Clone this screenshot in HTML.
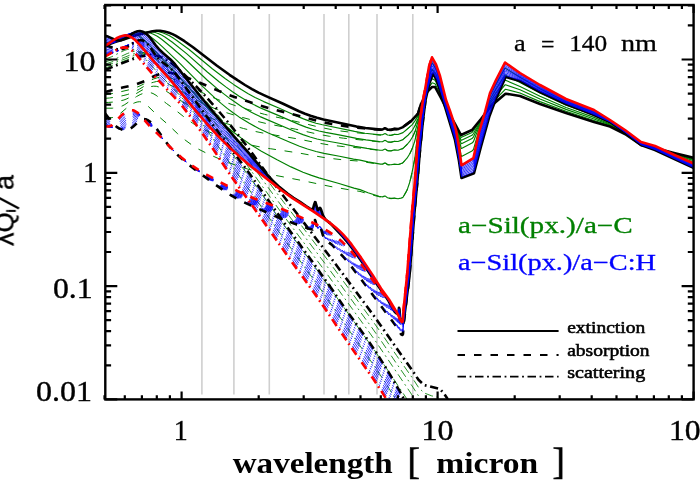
<!DOCTYPE html>
<html><head><meta charset="utf-8"><title>lambda Q / a  -  a = 140 nm</title><style>html,body{margin:0;padding:0;background:#fff;}body{width:700px;height:500px;overflow:hidden;font-family:"Liberation Serif",serif;}svg{display:block;}</style></head><body>
<svg width="700" height="500" viewBox="0 0 700 500"><defs><clipPath id="pc"><rect x="105.3" y="5.0" width="588.3" height="394.4"/></clipPath></defs><rect width="700" height="500" fill="#fff"/><g clip-path="url(#pc)">
<line x1="201.9" x2="201.9" y1="14" y2="394.5" stroke="#cfcfcf" stroke-width="1.6"/>
<line x1="233.9" x2="233.9" y1="14" y2="394.5" stroke="#cfcfcf" stroke-width="1.6"/>
<line x1="269.3" x2="269.3" y1="14" y2="394.5" stroke="#cfcfcf" stroke-width="1.6"/>
<line x1="324.0" x2="324.0" y1="14" y2="394.5" stroke="#cfcfcf" stroke-width="1.6"/>
<line x1="348.8" x2="348.8" y1="14" y2="394.5" stroke="#cfcfcf" stroke-width="1.6"/>
<line x1="377.0" x2="377.0" y1="14" y2="394.5" stroke="#cfcfcf" stroke-width="1.6"/>
<line x1="412.8" x2="412.8" y1="14" y2="394.5" stroke="#cfcfcf" stroke-width="1.6"/>
<path d="M105.2 44.1L120.7 40.1L139.2 34.4L149.7 31.6L152.7 31.2L155.7 31.2L158.9 31.7L162.6 32.8L166.2 34.3L169.5 35.8L172.8 37.8L176.8 40.5L189.1 49.5L212.3 68.7L225.4 78.7L233.5 84.4L241.3 89.5L248.2 93.7L255.1 97.5L263.7 101.6L280.5 108.7L297.5 116.4L303.5 118.9L309.5 121.1L316 123.2L322.5 124.8L354.5 131.4L365 133.2L380 134.9L382.5 134.8L384.5 133.7L385 133.6L386 134L387.5 135L390.5 135.2L392.5 134.9L394.5 134.2L398 134.5L403 132.6L412 124.9L415 120.9L418 115.8L421 104.9L427 90.3L429 86.9L432 82.8L435 83.7L436 85.6L440 93.6L447 109.2L456 126.3L461 137.3L461.5 137.3L472 132.4L473.5 130.6L481 119.7L491 104.1L505 89.6L505.5 89.3L520 93L540 101.6L566 111.3L610 125.8L625 133.6L641 144.7L655 147.8L675 153.4L700 160.1" fill="none" stroke="#008000" stroke-width="1.15" stroke-linejoin="round"/>
<path d="M105.4 42.9L113.4 41.7L118.9 40.5L129.4 37.5L141.4 33.4L146.9 32L149.9 31.7L152.4 31.9L155.2 32.5L158.1 33.5L161.5 35.1L164.9 37L172.4 42.3L186.3 53.4L207.3 72L219.1 81.8L225.8 86.9L232.5 91.7L239.2 96.2L245.5 100.1L253.5 104.5L261.5 108.4L280 116.1L299.5 124.6L306 127.1L312.5 129.2L319 131L325.5 132.4L339 134.9L356.5 138.4L366 139.9L379.5 141.6L382.5 141.7L384.5 140.5L385 140.4L385.5 140.5L387.5 141.8L388 142L391 142.1L394.5 141.2L398 141.5L403 139.6L403.5 139L408 135.1L411 132L412.5 130L415 125.8L418 118.5L421 106L427 88.5L429 83.6L432 78.5L435 80.3L436 82.1L440 90.8L446 106.1L456 126.8L461 140L461.5 140.3L472 135.3L473.5 133.5L485 113.4L490 103.7L491 102.1L505 84.9L505.5 84.8L520 89.7L540 99L566 109.4L594 119L610 124.9L625 133.1L641 144.3L655 147.5L675 153.7L700 161" fill="none" stroke="#008000" stroke-width="1.15" stroke-linejoin="round"/>
<path d="M105.4 42.8L108.9 42.6L112.4 42.1L122.4 39.7L126.4 38.4L136.9 34.3L142.9 32.6L145.4 32.4L147.9 32.5L150.3 33L153.4 34.2L157.3 36.3L161.6 39.3L165.9 42.7L172.9 48.5L185.5 59.5L207.1 80L218.9 90.1L230.6 99.1L241.8 106.7L250.9 112L260.1 116.6L295.5 131.7L303 134.6L310 137L317 139L324 140.5L339.5 143.3L355 146.4L367 148.4L380 150.2L382.5 150.3L384.5 149.2L385 149.1L385.5 149.2L387.5 150.5L388 150.6L391 150.8L394.5 149.9L398 150.3L403 148.4L407.5 144L410.5 140.3L412.5 137L415 131.6L418 121.5L420 111.4L423 100L429 80.2L432 74.2L435 76.9L436 78.7L440 88L446 105L456 127.3L459 136.4L461 143.1L461.5 143.7L472 138.6L473.5 136.8L479 125.1L485 113.1L490 101.7L496 92.8L505 80.4L505.5 80.3L520 86.5L540 96.3L566 107.5L594 117.4L610 124.1L625 132.5L641 143.9L655 147.3L675 153.9L700 161.9" fill="none" stroke="#008000" stroke-width="1.15" stroke-linejoin="round"/>
<path d="M105.2 43.5L111.2 42.7L119.2 40.8L122.2 39.7L131.2 35.5L134.7 34.2L137.7 33.4L140.2 33.2L142.7 33.3L144.7 33.8L147.4 35L150.1 36.5L153.7 39.2L157.8 42.6L162.8 47.2L179.9 63.3L201.5 85.4L215.1 98.1L221.4 103.6L227.2 108.4L233.1 112.8L239 116.9L248.9 123.1L258.8 128.5L267.8 132.7L290.5 142.5L299.5 146.2L307.5 149L316 151.5L324 153.4L339.5 156.2L353.5 159.1L360 160.1L368 161.9L380.5 164.1L382.5 164.1L384.5 163.1L385 163L385.5 163.1L387.5 164.4L388 164.6L391 164.8L394.5 164.1L398 164.5L400.5 163.7L403 162.7L407 158.2L409.5 154.3L412 149.1L414.5 142L415.5 138.1L418 125.7L420 113.5L423 100L425 92.8L429 76.3L432 69.2L435 72.8L436 74.6L440 84.6L446 103.6L453 120.2L456 128L459 138.9L461 147.5L461.5 148.5L472 143.1L473.5 141.5L479 126.9L485 112.8L490 99.3L496 89.1L505 75L506 75.4L520 82.6L540 93.1L566 105.2L594 115.3L610 123L625 131.9L641 143.4L655 146.9L675 154.3L700 163" fill="none" stroke="#008000" stroke-width="1.15" stroke-linejoin="round"/>
<path d="M105.5 44.6L110 43.8L113 42.9L123 37.2L126.5 35.7L129.5 34.8L132 34.4L134 34.4L136.5 35L138.9 36.1L140.8 37.3L143.2 39.2L149.8 45.7L176.1 73.4L201.8 102.2L215.6 116.4L224.2 124.4L232.3 131.2L241.4 138.1L250.4 144.5L261.4 151.2L277.1 159.8L291 166.9L303 172.2L311.5 175.4L319 177.9L339 183.5L354 188.1L360 189.6L368 192.7L379 196.2L381.5 196.8L382.5 196.9L384.5 196.1L385 196.1L386 196.6L387.5 197.7L391 198.4L394.5 198L398 198.8L401 198.1L402.5 197.6L403 197.2L406.5 191.1L407.5 188.9L409.5 183L411 177.2L413 167.9L415 157.3L417 139.6L420 116.8L423 100L425 91.3L429 70.9L432 62.6L436 69L440 79.9L446 101.7L453 120.1L456 129L459 143L461 154.7L461.5 156.6L472 150.9L473 150L473.5 149.4L479 129.8L485 112.4L490 95.9L496 84.1L505 68L520 77.3L540 88.7L566 101.8L594 112.5L610 121.4L625 130.9L641 142.7L655 146.4L675 154.8L692.5 161.7L700 164.9" fill="none" stroke="#008000" stroke-width="1.15" stroke-linejoin="round"/>
<path d="M105.1 94.8L114.3 93.2L130.5 89.5L134.8 88.1L140 85.9L143.4 84.2L149.5 80.8L153.8 78.9L157.2 77.8L160.7 77L163.3 76.8L166 76.9L170.6 78L176.6 80.3L186.4 84.8L207.9 95.4L221.3 100.9L235.5 105.7L254.8 111.6L264.4 114.3L273.2 116.4L297.1 121.7L319 127.1L331.5 129.6L340 130.9L350.5 132.2L379.5 135L382.5 135.1L384.5 133.9L385 133.8L386 134.2L387.5 135.2L391 135.4L394.5 134.4L398 134.7L403 132.8L412 125.1L415 121.1L418 116L421 104.9L423 100L427 90.3L429 86.9L431 84.2" fill="none" stroke="#008000" stroke-width="1.00" stroke-dasharray="7.8 8.7" stroke-linejoin="round"/>
<path d="M105.1 98.3L109.4 98L115.8 97.1L123.1 95.6L127.2 94.6L131.3 93.1L135.4 91.2L139.4 89.1L145.9 85.2L150 83.3L153.3 82.3L156.5 81.5L159 81.3L161.4 81.4L164.9 82.4L169.6 84.6L182.2 91.5L199.1 101.3L205.4 104.7L208.4 106L217.5 109.6L226.5 112.7L236.8 115.9L253.6 120.5L267.8 123.9L295.7 129.2L318 134.2L329.5 136.3L343.5 138.2L380 141.9L382.5 141.9L384.5 140.7L385 140.7L386 141L387.5 142L391 142.3L394.5 141.4L398 141.7L403 139.8L409 134.3L411 132.1L412.5 130.2L415 125.9L418 118.7L421 106L423 100L427 88.5L429 83.6L431 80.2" fill="none" stroke="#008000" stroke-width="1.00" stroke-dasharray="7.8 8.7" stroke-linejoin="round"/>
<path d="M105 102.5L108.7 102.4L114 102L120.1 100.9L123.9 100L126.9 98.8L130.7 96.9L142.2 90L145.2 88.5L148.3 87.3L151.3 86.5L153.6 86.2L156.3 86.3L159.2 87.1L162.5 88.8L179 99.4L191.3 107.8L202.8 114.7L211.7 118.5L220.9 121.9L230.7 124.9L243.5 128.5L254.5 131.3L264.2 133.3L297.8 138.9L318.5 143.1L329.5 145L343.5 146.6L360 148L380.5 150.5L382.5 150.5L384.5 149.4L385 149.3L385.5 149.4L387.5 150.7L388 150.8L391 151L394.5 150.1L398 150.5L403 148.6L403.5 147.9L407 144.7L409.5 141.8L411.5 138.9L414.5 133L415.5 130.3L418 121.7L420 111.5L421 107.1L423 100L429 80.2L431 76.2" fill="none" stroke="#008000" stroke-width="1.00" stroke-dasharray="7.8 8.7" stroke-linejoin="round"/>
<path d="M105.4 108.2L112.3 108.2L116.5 107.7L120 106.9L122.1 106L124.8 104.6L136.6 96.5L140.1 94.6L142.9 93.5L145.6 92.7L148.4 92.4L150.4 92.6L153 93.5L156.1 95.3L166.5 103.5L174.3 109.2L185.6 118.2L192.5 123.1L199.5 127.6L207.3 131.2L215.5 134.5L224.2 137.5L234.7 140.7L248.8 144.6L261.2 147.2L270.3 148.7L300 153.2L317 156.3L326.5 157.9L342.5 159.8L360 161.2L367 162.4L380.5 164.4L382.5 164.4L384.5 163.3L385 163.3L385.5 163.4L387.5 164.7L388 164.8L391 165L394.5 164.3L398 164.7L400.5 163.9L403 162.9L403.5 162.1L407 158.4L409 155.4L410.5 152.6L413.5 145.2L415 140.5L415.5 138.2L418 125.8L420 113.5L423 100L425 92.8L429 76.3L431 71.6" fill="none" stroke="#008000" stroke-width="1.00" stroke-dasharray="7.8 8.7" stroke-linejoin="round"/>
<path d="M105.1 117.4L108.2 117.7L111.1 117.7L113.5 117.4L115.2 116.8L117 115.9L118.8 114.7L127.7 107.1L131.8 104.1L134.2 103L137.1 102L139.5 101.7L141.5 102L143.9 102.9L146.7 104.9L157.5 115.4L167.3 123.9L177.6 133.7L185.1 140L192.6 145.5L194.5 146.8L198.8 149.3L207.9 153.9L218 158.3L229.5 162.9L238.6 166.2L247.2 168.9L255.4 171.2L263.6 173.1L300 180.1L330 186.4L351 190.1L360 191.4L369 194.1L380.5 197.1L382.5 197.3L384.5 196.5L385 196.5L388 198.2L391 198.7L394.5 198.3L398 199L398.5 198.9L401.5 198.2L402.5 197.8L403 197.4L407 190.4L409 184.8L410.5 179.4L413 168L415 157.4L417 139.6L420 116.8L421 111.1L423 100L425 91.3L429 70.9L431 65.4" fill="none" stroke="#008000" stroke-width="1.00" stroke-dasharray="7.8 8.7" stroke-linejoin="round"/>
<path d="M105 68.1L137 56.2L141 55.2L145.5 54.5L148.5 54.3L151.5 54.5L155 55.3L158 56.5L161.4 58.4L164.9 60.8L169.8 64.7L174.8 68.9L188.1 81.6L199.9 94.1L213.6 109.7L231.5 131.8L246 150.6L278.5 195.3L330.5 263.8L372 320.1L379.5 330.6L396.5 355.4L413 378.9L418.5 387.4L424 392.9L431.5 395.8L440 397.8L444 401.9L447 405.8L449 410.3" fill="none" stroke="#008000" stroke-width="0.85" stroke-dasharray="8.2 3.7 1.8 3.7" stroke-linejoin="round"/>
<path d="M105.1 66L123.1 59.7L133.1 55.8L136.1 54.9L140.1 53.9L143.6 53.4L146.6 53.4L149 53.8L151.8 54.6L154.6 55.9L157.7 57.9L160.9 60.3L166.5 65L173.2 71.1L187.1 84.6L192.3 90L198.2 96.7L212.1 113.2L234 141.1L247.5 158.9L278.5 201.8L326 264.9L372 327.8L380 339.2L396.5 363.5L413 387.3L418.5 395.9L424 401.8L432 406.1L440 407.7L444 411.3" fill="none" stroke="#008000" stroke-width="0.85" stroke-dasharray="8.2 3.7 1.8 3.7" stroke-linejoin="round"/>
<path d="M105.5 64L119.5 59.3L130.5 54.9L135.5 53.3L139 52.6L141.5 52.4L144.2 52.6L146.7 53.2L149.2 54.2L151.3 55.4L154.2 57.6L157.5 60.4L174.1 75.9L183.6 85.3L189 91L195.6 98.5L203.9 108.5L218.8 127.6L247 165L280.5 211.5L322.5 267.7L374 338.9L413 396.4L418.5 405L423.5 410.8" fill="none" stroke="#008000" stroke-width="0.85" stroke-dasharray="8.2 3.7 1.8 3.7" stroke-linejoin="round"/>
<path d="M105.3 61.9L116.3 58.4L119.8 57L127.3 53.5L132.8 51.7L135.3 51.2L137.8 51.1L140 51.4L142.2 52.1L144.4 53.1L146.2 54.2L151 58.3L173.7 80.8L182 89.2L186.8 94.4L198.1 108L213 127.3L230 150.8L251.5 179.8L282.5 223.2L309 258.9L321.5 276L375 351L415 411.2" fill="none" stroke="#008000" stroke-width="0.85" stroke-dasharray="8.2 3.7 1.8 3.7" stroke-linejoin="round"/>
<path d="M105.3 59L111.8 56.7L121.3 51.8L124.8 50.3L127.3 49.5L129.8 49.1L131.8 49.2L134.1 49.8L136.5 50.8L139.3 52.7L142.1 55.3L158.1 73L177.4 92.7L183.9 100L192.9 111.2L205.6 128.2L230 163.2L254.5 197.1L281.5 235.3L319 286.9L348.5 329.5L374 365.6L382.5 378.4L403.5 410.9" fill="none" stroke="#008000" stroke-width="0.85" stroke-dasharray="8.2 3.7 1.8 3.7" stroke-linejoin="round"/>
<path d="M105 45.7L115 42L125 39L135 35.5L141 33.9L152.5 31.2L156.5 30.7L160 30.8L164.5 31.5L169 32.8L172.5 34.1L175.5 35.6L184.5 41.2L193 47.2L217 65.8L229.5 74.8L237.5 80.2L245 85L252 89.1L258.5 92.6L266 96.1L282 103.2L299 111.2L305 113.7L310.5 115.7L317 117.8L323.5 119.5L356.5 126.6L365.5 128L380.5 129.6L382.5 129.5L384.5 128.3L385 128.2L386 128.6L387.5 129.6L391 129.8L394.5 128.8L398 129.1L403 127.1L403.5 126.6L412 120.2L418 113.6L421 104L427 92L432 87L435 87L441 98L447 110L455 124L461 135L472 130L481 119L491 106L505.5 93.7L506 93.7L520 96L540 104L566 113L594 122L610 126.5L625 134L641 145L655 148L675 153.2L700 159.4" fill="none" stroke="#000000" stroke-width="2.60" stroke-linejoin="round"/>
<path d="M105 92L122.5 87.6L132 85.4L137 84L144.5 81.1L154.5 76L159.5 74.2L165.5 72.9L168.5 72.8L171.5 73L177.5 74.2L184 76.4L196 81.1L218 90.6L226 93.9L234.5 97L257 104.5L270.5 108.6L295.5 115L316.5 120.7L324.5 122.6L332 124.1L340.5 125.5L351.5 127L363.5 128.3L381 129.8L382.5 129.7L384.5 128.5L385 128.4L386 128.8L387.5 129.8L391 130L394.5 129L398 129.3L403 127.3L403.5 126.8L412 120.4L418 113.8L421 104L427 92L431 88" fill="none" stroke="#000000" stroke-width="2.60" stroke-dasharray="7.8 8.7" stroke-linejoin="round"/>
<path d="M105 70L120.5 63.7L138.5 57L142 56.1L146.5 55.5L150.5 55.1L154 55.3L158 56L161.5 57.2L165 58.9L168.5 61.1L172.5 64.1L176.5 67.4L189.5 79.5L202.5 92.9L216 107.9L230 124.6L244.5 143L254 155.8L278.5 189.6L334 262L372 313.3L380 324.4L397.5 349.6L413 371.4L418.5 379.8L424 385L440 389L444 393.6L447 398L452 410.5" fill="none" stroke="#000000" stroke-width="2.60" stroke-dasharray="8.2 3.7 1.8 3.7" stroke-linejoin="round"/>
<path d="M329 222.2L332 225L343 236.9L348.5 243.5L354 250.7L362 262.1L374 279.9L386.5 297.7L388.5 300.8L392.5 308.3L394.5 311.5L396 313L398 314L398.5 312.5L399 307.7L399.5 309.2L400 316.5L400.5 318.9L402 322L402.5 322.6L403.5 323L409.5 276L414.5 212L417.5 180L420 150L423 120L425.5 100L429.5 83L433 73.5L437 81L443 100L455 140L459 161L461.5 178L474 173.2L481 146.5L489.5 116L495.5 100L505.5 77.2L506 77.1L520 81L540 92L566 104L594 115L610 122L625 132.5L641 145L655 150L675 159.2L700 171" fill="none" stroke="#000000" stroke-width="2.60" stroke-linejoin="round"/>
<path d="M329 242.6L332.5 245.3L338 251L344.5 258.2L350.5 265.4L357.5 274.5L396 326L400.5 333.5L401.5 334.6L402.5 335L403 334L403.5 326.2L406.5 300L409.5 276L414.5 212L417.5 180L420 150L423 120L425.5 100L429.5 83L431 78.9" fill="none" stroke="#000000" stroke-width="2.60" stroke-dasharray="7.8 8.7" stroke-linejoin="round"/>
<path d="M329 285.1L348 312.5L367 338.8L377 353.7L385 366.4L393 379.7L401 393.6L410.5 410.8" fill="none" stroke="#000000" stroke-width="2.60" stroke-dasharray="8.2 3.7 1.8 3.7" stroke-linejoin="round"/>
<path d="M105.1 37.2L114.1 40.6L116.6 41L118.6 40.9L120.6 40.3L123.1 39.1L130.1 34.5L133.1 32.8L135.6 31.8L138.1 31.4L140.1 31.7L142.1 32.4L144.6 34L146.6 35.8L149.1 38.6L154.4 45.6L157.5 49.2L161.9 53.6L169.4 60.3L173.9 65L200.9 98.9L221.2 123.3L232.3 136L250.5 156.1L265 172.8L273 181.3L280.5 188.2L288 194.1L294 198.3L300 202L306 206.2L310 208.6L312.5 209.6L313 209.1L314 205.7L315 203.2L315.5 203.4L317.5 209.7L318 210.5L319.5 208.9L320 208.6L320.5 209.1L323 215.7L325 218.8L326 220L329.5 222.6L332 224.9L340.5 233.9L347.5 241.9L354 250.4L360.5 259.6L374 279.6L387.5 299L389 301.4L393 308.9L394.5 311.2L396 312.8L398 314.1L398.5 312.8L399 308.7L399.5 310.1L400 316.7L400.5 319L401.5 321.2L402.5 322.4L403 322.4L403.5 321.7L409.5 272.8L414.5 209.3L420 147L423 118L425.5 98.7L429.5 81.2L432 74.3L433 72.1L437 79.6L443 98.8L455 138.7L459 159.6L461.5 176.7L473 172.1L474 171.4L481 144.4L489.5 113.9L495.5 98.1L505 76.8L505.5 75.8L506 75.7L520 80.2L540 91.3L566 103.5L594 114.5L610 121.8L625 132.2L641 144.7L655 149.6L700 170.6" fill="none" stroke="#0000ff" stroke-width="0.80" stroke-linejoin="round"/>
<path d="M105.2 38.7L113.2 41.3L115.2 41.6L117.2 41.4L119.2 40.7L121.2 39.7L128.7 34.9L131.2 33.5L133.7 32.4L136.2 31.9L138.2 32L140.7 32.9L143.2 34.4L145.2 36.1L147.7 38.9L153 45.8L156.6 49.9L160.6 54L168.7 61.5L173.7 66.9L202.4 102.8L213.6 116.2L224.9 129.3L233.8 139.3L250 156.6L264.5 172.8L271.5 180L279 187L287 193.5L293 197.7L300 202.1L308.5 207.9L310.5 209L312.5 209.8L313 209.3L314 206.4L315 204.2L315.5 204.4L317.5 210.2L318 210.9L320 209.4L320.5 209.9L323 215.9L325 218.9L326 220L329.5 222.6L332 224.9L340.5 233.6L347.5 241.6L354 250.1L360.5 259.3L375.5 281.6L387.5 298.8L389.5 302.1L393 308.6L395 311.6L396 312.6L398 314.2L398.5 313.2L399 309.6L399.5 310.9L400 316.9L400.5 319L401.5 321.1L402.5 322.3L403 322L403.5 320.4L407 292L409.5 269.6L414.5 206.7L420 144L423 116L425.5 97.4L429 81.4L429.5 79.4L432 72.4L433 70.6L437 78.3L440 87.6L446 108L455 137.3L459 158.2L461.5 175.4L473 170.6L474 169.6L481 142.3L489.5 111.8L495.5 96.2L505 75.2L505.5 74.4L506 74.3L520 79.4L540 90.6L566 103L594 114L610 121.6L625 132L641 144.4L655 149.2L700 170.1" fill="none" stroke="#0000ff" stroke-width="0.80" stroke-linejoin="round"/>
<path d="M105.3 40.2L111.8 41.9L113.8 42.1L115.8 41.9L117.3 41.4L119.3 40.4L126.8 35.5L129.3 34.1L132.3 32.8L134.8 32.3L136.8 32.4L139.3 33.3L141.8 34.8L143.8 36.5L146.3 39.2L152.1 46.5L155.7 50.7L159.8 54.9L167.6 62.3L172.6 67.8L202.2 104.5L213.1 117.6L223.6 129.6L234.5 141.6L250 157.7L264 172.8L270 178.9L278 186.3L286.5 193.2L293 197.8L300 202.2L308 207.6L310.5 209L312.5 209.9L313 209.6L314 207.1L315 205.3L315.5 205.5L317.5 210.7L318 211.4L320 210.2L320.5 210.7L323 216.2L325 218.9L326 220L329.5 222.6L332 224.8L340 232.9L347 240.8L353.5 249.1L360.5 259L378.5 285.8L387.5 298.7L389.5 301.9L393 308.3L395 311.3L398 314.3L398.5 313.5L399 310.5L399.5 311.8L400 317.2L400.5 319.1L401.5 321.1L402.5 322.1L403 321.5L403.5 319.1L407 290L409.5 266.4L417 174.7L420 141L423 114L425.5 96.1L429 79.5L429.5 77.6L432 70.5L433 69.2L437 76.9L440 86.1L446 107L455 136L459 156.8L461.5 174.2L473 169L473.5 168.7L474 167.9L479 147.6L489.5 109.7L495.5 94.3L505 73.6L505.5 72.9L506 72.9L520 78.6L540 89.9L566 102.5L594 113.5L610 121.4L625 131.8L641 144.1L655 148.8L700 169.7" fill="none" stroke="#0000ff" stroke-width="0.80" stroke-linejoin="round"/>
<path d="M105.4 41.5L110.9 42.6L112.9 42.6L114.9 42.2L117.9 40.8L127.4 34.8L130.4 33.4L132.9 32.8L135.4 32.9L137.4 33.5L139.9 34.9L142.4 36.9L144.9 39.5L150.7 46.7L154.9 51.5L166.9 63.6L172 69.2L202 106.3L212.1 118.3L221.8 129.4L234.3 142.9L266.5 175.8L276 184.7L285 192.2L293 197.9L308 207.7L312.5 210.1L313 209.8L314 207.8L315 206.3L315.5 206.6L317.5 211.2L318 211.8L320 211L320.5 211.5L323 216.4L325 219L326 220L329.5 222.6L332 224.8L337.5 230.1L342.5 235.3L346.5 239.9L350.5 244.8L359 256.5L380 287.8L388 299.2L393 307.9L395 311L398 314.3L398.5 313.9L399 311.4L399.5 312.7L400 317.4L400.5 319.2L401.5 321L402.5 322L403 321L403.5 317.8L407 288L409.5 263.2L417 171.2L420 138L423 112L425.5 94.8L429 77.7L429.5 75.8L432 68.6L433 67.7L436 73.3L437 75.6L440 84.7L446 106L455 134.7L456 139.1L459 155.4L461.5 172.9L473 167.5L473.5 167.1L474 166.1L479 145.5L490 106L496 91.3L505 72L505.5 71.5L506 71.5L520 77.8L540 89.2L566 102L594 113L610 121.2L625 131.5L641 143.8L655 148.4L700 169.2" fill="none" stroke="#0000ff" stroke-width="0.80" stroke-linejoin="round"/>
<path d="M105 42.6L110 43.2L112 43.1L113.5 42.7L116.5 41.1L125.5 35.4L129 33.9L131.5 33.3L134 33.3L136 33.9L138.5 35.3L141.5 37.7L144 40.4L149.8 47.5L154 52.3L165.7 64.4L171.3 70.7L201.3 107.5L211.1 119.1L220 129.2L227.1 136.9L234.1 144.2L262 171.9L270.5 180L278.5 187.1L286 193L293.5 198.4L308.5 208L312.5 210.2L313 210.1L314 208.5L315 207.4L315.5 207.6L317.5 211.7L318 212.3L320 211.9L320.5 212.3L323 216.7L325 219.1L332.5 225.2L338 230.4L343 235.6L350.5 244.5L359 256.2L380.5 288.4L388 299L395 310.7L398 314.4L398.5 314.2L399 312.4L399.5 313.6L400 317.7L400.5 319.3L401.5 321L402.5 321.8L403 320.5L407 286L409.5 260L417 167.7L420 135L423 110L425.5 93.5L429 75.8L432 66.8L433 66.3L436 71.8L437 74.2L440 83.2L446 105L450 117.2L455 133.3L456 137.6L459 154L461.5 171.7L473 166L473.5 165.6L474 164.3L479 143.3L490 103.8L496 89.4L505 70.4L505.5 70L520 77L540 88.5L566 101.5L594 112.5L610 121L625 131.2L641 143.5L655 148L700 168.8" fill="none" stroke="#0000ff" stroke-width="0.80" stroke-linejoin="round"/>
<path d="M105.1 43.6L109.1 43.8L112.1 43.1L114.6 41.8L123.6 36.1L126.6 34.7L129.6 33.8L132.1 33.7L134.6 34.3L137.1 35.7L140.1 38L142.6 40.6L153.7 53.7L165.1 65.7L171.2 72.7L199.2 106.9L213.9 124.2L225.8 137.2L238.1 149.7L265 175.4L272.5 182.1L279.5 188L285.5 192.8L291.5 197.1L310.5 209.3L312.5 210.4L313 210.3L314 209.2L315 208.4L315.5 208.7L317.5 212.2L318 212.7L320 212.7L320.5 213.1L322.5 216.3L324.5 218.6L326 220L330 223L333.5 226L338.5 230.7L343 235.4L346.5 239.3L350.5 244.2L359 255.9L372 275.2L380.5 288.3L388 298.8L395 310.5L398 314.5L398.5 314.6L399 313.3L399.5 314.5L400 317.9L400.5 319.4L401.5 321L402.5 321.7L403 320.1L407 284L409.5 256.8L412 224.8L415 190.7L417 164.1L420 132L423 108L425.5 92.2L429 73.9L432 64.9L433 64.9L436 70.4L437 72.8L440 81.8L446 104L450 115.9L455 132L456 136.1L459 152.6L461.5 170.4L473 164.5L473.5 164L474 162.5L479 141.2L490 101.7L496 87.5L505 68.8L505.5 68.6L520 76.2L540 87.8L566 101L594 112L610 120.8L625 131L641 143.2L655 147.6L700 168.4" fill="none" stroke="#0000ff" stroke-width="0.80" stroke-linejoin="round"/>
<path d="M105.2 44.4L108.2 44.3L110.7 43.6L112.7 42.5L118.7 38.5L121.7 36.7L125.2 35.1L128.2 34.2L130.7 34.1L133.2 34.8L136.2 36.4L139.2 38.8L142.2 42.1L153.3 55.2L164.9 67.6L171.1 74.7L198.1 107.5L211.5 123.4L223.6 136.6L235.6 148.7L262 173.2L271 181.1L279.5 188.2L285.5 192.9L291.5 197.2L310 209.1L312.5 210.5L313 210.5L314 209.8L315 209.4L315.5 209.7L317.5 212.7L318 213.2L320 213.5L320.5 213.9L322.5 216.6L324.5 218.7L330.5 223.4L334 226.4L338.5 230.5L343 235.1L347 239.6L351 244.6L359.5 256.3L372.5 275.7L381 288.9L388 298.6L394 308.6L398 314.6L398.5 314.9L399 314.2L399.5 315.3L400 318.2L400.5 319.4L401.5 320.9L402 321.4L402.5 321.5L403 319.6L407 282L409.5 253.6L412 221.6L415 188L417 160.6L420 129L423 106L425.5 90.9L429 72.1L432 63L433 63.4L436 68.9L437 71.5L440 80.3L446 103L450 114.7L455 130.7L456 134.6L459 151.2L461.5 169.1L473 163L473.5 162.4L479 139L485 118L490 99.5L496 85.7L505 67.3L505.5 67.2L520 75.4L540 87.1L566 100.5L594 111.5L610 120.6L625 130.8L641 142.9L655 147.2L700 167.9" fill="none" stroke="#0000ff" stroke-width="0.80" stroke-linejoin="round"/>
<path d="M105.3 45L107.3 44.7L109.3 44L111.3 42.9L116.8 39.2L120.3 37.1L123.8 35.5L126.8 34.6L129.3 34.6L131.8 35.2L134.8 36.8L137.8 39.2L141.3 42.9L153.5 57.2L171.1 76.7L197.4 108.7L210 123.6L221.7 136.4L233.4 148.1L244.2 158L257.5 169.9L269 179.7L280 188.7L286 193.4L292 197.6L309.5 208.9L312.5 210.7L313 210.8L315 210.5L315.5 210.8L318 213.7L320 214.3L320.5 214.7L322.5 216.9L324.5 218.8L331 223.8L335 227.1L339 230.8L343 234.9L347 239.4L351 244.3L355.5 250.3L360.5 257.5L372.5 275.4L381 288.8L388.5 299.2L398 314.7L398.5 315.3L399 315.1L399.5 316.2L400 318.4L400.5 319.5L401.5 320.9L402 321.3L402.5 321.4L403 319.1L403.5 312.7L407 280L412 218.4L415 185.3L417 157.1L420 126L423 104L429 70.2L432 61.1L433 62L436 67.4L440 78.9L446 102L450 113.5L455 129.3L456 133.1L459 149.8L461.5 167.9L473 161.5L473.5 160.9L479 136.8L485 116L490 97.3L496 83.8L505 65.7L506 66L520 74.6L540 86.4L566 100L594 111L610 120.4L625 130.5L641 142.6L655 146.8L675 156.1L692.5 163.9L700 167.5" fill="none" stroke="#0000ff" stroke-width="0.80" stroke-linejoin="round"/>
<path d="M105.4 45.4L107.4 44.7L108.9 43.9L115.4 39.5L118.9 37.4L122.4 35.9L125.4 35.1L126.9 35L128.4 35.1L130.9 35.8L133.9 37.5L136.9 40L140.4 43.7L152.8 58.2L171.5 79.3L196.7 109.9L208.5 123.8L220.4 136.7L231.7 148L242.1 157.5L254 167.8L264.5 176.5L280.5 189.3L288 194.9L295 199.7L312.5 210.8L315 211.5L318 214.1L320.5 215.5L324 218.5L330.5 223.3L334.5 226.6L339 230.6L343 234.6L347 239.1L351 244L355.5 250L360.5 257.2L372.5 275.1L381 288.6L389 299.7L396.5 312L398 314.8L399 316.1L400.5 319.6L401.5 320.9L402 321.2L402.5 321.2L403 318.7L403.5 311.4L407 278L412 215.2L415 182.7L417 153.5L420 123L423 102L429 68.4L432 59.2L433 60.5L436 66L440 77.4L446 101L450 112.2L453 121.3L456 131.5L459 148.4L461.5 166.6L473 160L473.5 159.3L479 134.7L485 114L490 95.2L496 81.9L505 64.1L506 64.6L520 73.8L540 85.7L566 99.5L594 110.5L610 120.2L625 130.2L641 142.3L655 146.4L675 155.7L692.5 163.5L700 167" fill="none" stroke="#0000ff" stroke-width="0.80" stroke-linejoin="round"/>
<path d="M105.1 115.7L110.1 122L112.1 124.2L114.1 125.9L116.1 127.4L118.1 128.4L120.1 129.2L122.6 129.6L124.1 129.7L125.8 129.5L127.2 129L128.6 128.2L131.4 126.1L137.3 120.5L140.2 118.7L141.6 118.3L143.2 118.2L144.5 118.5L146.3 119.2L149.3 121.2L152.8 124.6L155.9 128.4L165 141.1L169 146L174.2 151.6L181.6 158.6L189.9 165.5L206.9 178.1L221.5 188.5L231.5 194.9L237 198L243.5 201.3L267.5 211.9L288.5 220.5L295.5 223.1L302 225.1L308.5 227.8L312.5 228.8L313 228.1L314.5 221.7L315 220.4L315.5 221.4L316.5 225.2L317.5 228.1L318 228.6L319.5 226.8L320 226.5L320.5 227.2L323 234.8L324.5 237.3L327 240.1L332 243.7L336 247.7L343.5 255.6L350 263.3L357.5 273L392.5 319.8L396.5 325.3L400.5 332.2L401.5 333.3L402.5 333.7L403 332.4L403.5 324.7L409.5 272.8L414.5 209.3L420 147L423 118L425.5 98.7L429.5 81.2L431 77.1" fill="none" stroke="#0000ff" stroke-width="0.85" stroke-dasharray="7.8 8.7" stroke-linejoin="round"/>
<path d="M105.2 118.2L109.7 123.5L111.7 125.3L113.7 126.8L115.7 127.9L117.7 128.6L120.2 129.2L122.2 129.3L124.7 128.9L127.2 127.6L129.4 125.8L135.3 120.2L138.2 118.1L139.7 117.5L141.2 117.3L143 117.5L144.8 118.2L147.9 120.2L151.4 123.7L155 128L164.3 140.4L168.7 145.8L174.5 151.9L181.6 158.5L189.6 165.1L203.3 175.2L219 186.1L230 193.3L235.5 196.4L241.5 199.5L259.5 207.5L287 219L295 222L302 224.3L308.5 227L312.5 228.1L313 227.5L314.5 221.9L315 220.8L315.5 221.7L316.5 225.2L317.5 227.7L318 228.3L319.5 226.7L320 226.5L320.5 227.2L323 234L324.5 236.4L327 239L332 242.6L336.5 246.9L343.5 254.2L350 261.8L357 270.7L375.5 295.8L390.5 315.5L396.5 324L400.5 330.9L401.5 332L402.5 332.4L403 330.9L403.5 323.1L409.5 269.6L414.5 206.7L420 144L423 116L425.5 97.4L429 81.4L429.5 79.4L431 75.2" fill="none" stroke="#0000ff" stroke-width="0.85" stroke-dasharray="7.8 8.7" stroke-linejoin="round"/>
<path d="M105.3 120.5L107.3 122.7L109.3 124.6L112.8 127L114.8 127.9L116.8 128.5L118.8 128.9L120.8 129L123.2 128.4L125.5 127.1L133.6 119.6L136.6 117.4L138.6 116.6L140.2 116.4L141.5 116.6L143.3 117.2L146.5 119.2L150.1 122.7L153.7 126.9L163.1 139.1L168.5 145.5L174.4 151.7L181.6 158.4L189.7 165L201.4 173.5L217 184.2L228.5 191.6L234 194.8L239.5 197.7L253 203.9L286 217.6L295 221.1L302 223.4L308.5 226.2L312.5 227.4L313 226.9L314.5 222.1L315 221.1L315.5 222L316.5 225.1L317.5 227.4L318 227.9L319.5 226.6L320 226.5L320.5 227.1L323 233.3L324.5 235.4L327 238L331 240.8L333 242.4L338.5 247.7L345.5 255L352 262.7L359 271.9L377.5 297L389.5 312.6L396.5 322.6L400.5 329.6L401.5 330.7L402.5 331.1L403 329.4L403.5 321.5L409.5 266.4L414.5 204L420 141L423 114L425.5 96.1L429 79.5L429.5 77.6L431 73.4" fill="none" stroke="#0000ff" stroke-width="0.85" stroke-dasharray="7.8 8.7" stroke-linejoin="round"/>
<path d="M105.4 122.5L108.4 125.2L111.9 127.2L113.9 127.9L116.4 128.5L118.4 128.6L119.8 128.5L121.8 127.9L123.8 126.7L131.4 119.4L133.4 117.7L135 116.7L137 115.8L138.6 115.5L140.4 115.7L142.3 116.4L145.5 118.6L148.7 121.7L152.3 125.9L161.9 137.9L168.8 145.8L174.8 152L181.6 158.3L189.4 164.6L199.5 171.9L214.5 182L226.5 189.7L237.5 195.9L250.5 202L264 207.7L286 216.6L295 220.1L302 222.6L308.5 225.4L312.5 226.7L313 226.3L314.5 222.3L315 221.5L315.5 222.3L316.5 225L317.5 227.1L318 227.5L319.5 226.6L320 226.5L320.5 227L323 232.5L324 234L327 236.9L333 241.2L339 246.9L345.5 253.6L351.5 260.6L359 270.3L377.5 295.5L389.5 311L396.5 321.2L400.5 328.3L401.5 329.4L402.5 329.8L403 327.9L403.5 319.9L407 288L409.5 263.2L417 171.2L420 138L423 112L425.5 94.8L429 77.7L431 71.5" fill="none" stroke="#0000ff" stroke-width="0.85" stroke-dasharray="7.8 8.7" stroke-linejoin="round"/>
<path d="M105 123.7L108 125.8L111.5 127.4L115.5 128.2L117 128.3L118.8 128L120.4 127.4L122.1 126.2L129.6 118.8L131.7 117.1L133.3 116L135.4 115L137.1 114.7L138.9 114.8L140.8 115.4L143.5 117.1L146.8 120.2L150.5 124.3L159.8 135.6L169.1 146.1L174.7 151.8L181.7 158.2L188.6 163.9L197.5 170.3L208.6 177.7L223.5 187.2L230 191L236 194.3L248.5 200.3L264 206.8L293 218.4L302 221.8L308.5 224.6L312.5 226L313 225.8L314.5 222.5L315 221.9L315.5 222.6L317.5 226.7L318 227.2L319.5 226.5L320 226.5L320.5 227L323 231.8L324 233.1L327 235.8L333 240.1L338.5 245.1L345 251.6L351 258.5L359 268.8L378 294.7L388.5 308.1L396.5 319.8L400.5 327L401.5 328.1L402.5 328.5L403 326.4L403.5 318.4L407 286L409.5 260L417 167.7L420 135L423 110L425.5 93.5L429 75.8L431 69.6" fill="none" stroke="#0000ff" stroke-width="0.85" stroke-dasharray="7.8 8.7" stroke-linejoin="round"/>
<path d="M105.1 125L108.1 126.5L111.6 127.5L114.6 127.9L117.3 127.6L118.6 127L120.4 125.8L128.2 117.9L130.3 116.1L132.1 115L134.2 114.1L136 113.8L137.8 113.9L139.7 114.6L142.5 116.4L145.4 119.1L157.6 133.3L169 145.9L174.1 151.2L180.3 156.9L186.9 162.4L194.4 167.9L203.9 174.3L217.5 182.9L229 189.7L238 194.5L248 199.2L261 204.7L302 221L308 223.6L312 225.2L312.5 225.3L313 225.2L314.5 222.7L315 222.3L317.5 226.4L318 226.8L320 226.4L320.5 226.9L323 231.1L324 232.2L327 234.8L333 239L338.5 243.8L345 250.2L351 256.9L359.5 267.9L377.5 292.6L388.5 306.5L396.5 318.4L400.5 325.7L401.5 326.8L402 327.1L402.5 327.1L403 324.9L403.5 316.8L407 284L409.5 256.8L412 224.8L415 190.7L417 164.1L420 132L423 108L425.5 92.2L429 73.9L431 67.8" fill="none" stroke="#0000ff" stroke-width="0.85" stroke-dasharray="7.8 8.7" stroke-linejoin="round"/>
<path d="M105.2 125.7L108.2 126.8L111.7 127.5L114.2 127.5L116 127L117.3 126.3L118.7 125.3L125.8 117.9L128.1 115.9L129.9 114.6L132.2 113.5L134.4 112.9L136.3 112.9L138.2 113.5L141 115.3L143.9 118L155.4 131.2L168.8 145.7L173.1 150.2L178.4 155.1L184.6 160.5L190.8 165.2L199 170.8L208.1 176.6L221.5 184.7L231.5 190.4L240.5 194.9L250 199.2L260.5 203.6L284.5 213L302 220.1L312.5 224.6L313 224.6L314.5 222.9L315 222.6L317.5 226.1L318 226.4L320 226.4L320.5 226.9L323 230.3L324 231.3L327 233.7L333 237.9L339.5 243.4L345 248.7L350.5 254.8L359 265.6L378 291.8L388.5 304.9L396.5 317L400.5 324.4L401.5 325.5L402 325.8L402.5 325.8L403 323.4L403.5 315.2L407 282L409.5 253.6L412 221.6L415 188L417 160.6L420 129L423 106L425.5 90.9L429 72.1L431 65.9" fill="none" stroke="#0000ff" stroke-width="0.85" stroke-dasharray="7.8 8.7" stroke-linejoin="round"/>
<path d="M105.3 126.1L108.3 126.9L110.8 127.2L112.7 127.1L114.1 126.7L115.5 126L116.9 124.9L124.4 117L126.7 115L128.6 113.7L130.9 112.5L133.3 112L135.2 112.1L137.1 112.7L139.5 114.2L142.5 116.9L155.1 131.1L162.4 138.6L170.6 147.6L177 153.7L182.8 158.8L189.1 163.8L195.4 168.2L203.2 173.2L215.5 180.6L228 187.7L237 192.4L246 196.7L258 201.7L286 212.6L302 219.3L312.5 223.9L313 224L314.5 223.1L315 223L317.5 225.7L318 226.1L320 226.4L324 230.5L332.5 236.4L338 240.8L344 246.3L350 252.7L354 257.6L359 264.1L378 290.3L388.5 303.3L396.5 315.6L400.5 323.1L401.5 324.2L402 324.5L402.5 324.5L403 321.9L403.5 313.6L407 280L412 218.4L415 185.3L417 157.1L420 126L423 104L425.5 89.7L429 70.2L431 64.1" fill="none" stroke="#0000ff" stroke-width="0.85" stroke-dasharray="7.8 8.7" stroke-linejoin="round"/>
<path d="M105.4 126.3L107.9 126.8L109.9 126.9L111.3 126.7L112.8 126.1L115.2 124.4L122.5 116.6L124.9 114.4L126.8 113L129.2 111.8L131.7 111.1L134.1 111.2L136.1 111.9L138.5 113.5L141 115.8L152.8 129L161.7 137.9L170.6 147.5L176 152.8L181.4 157.6L187.3 162.3L193.2 166.6L200.1 171L210.5 177.2L224 184.8L234 190.1L242.5 194.3L256 200.1L286.5 211.8L302 218.5L312.5 223.2L315 223.4L317.5 225.4L320.5 226.7L323.5 229.2L333 235.6L338.5 239.9L345 245.9L351 252.4L359.5 263.2L377.5 288.2L388.5 301.8L396.5 314.2L400.5 321.8L401.5 322.9L402 323.2L402.5 323.2L403 320.4L403.5 312.1L407 278L412 215.2L415 182.7L417 153.5L420 123L423 102L429 68.4L431 62.2" fill="none" stroke="#0000ff" stroke-width="0.85" stroke-dasharray="7.8 8.7" stroke-linejoin="round"/>
<path d="M105.4 46.9L114.4 50L116.9 50.4L118.9 50.3L121.4 49.6L124.4 48.3L132.4 43.2L135.9 41.4L137.4 41L138.9 40.8L140.3 41L141.6 41.4L144.2 43L146.8 45.5L149 48.3L153.8 55.4L157.3 59.5L161.3 63.1L169.6 69.8L174 74.4L179.2 81.2L222.9 140.7L249.5 176.4L285 226.8L320 275.3L347.5 314.8L367.5 342.6L377 356.8L387 372.7L397.5 390.4L409 410.7" fill="none" stroke="#0000ff" stroke-width="0.85" stroke-dasharray="8.2 3.7 1.8 3.7" stroke-linejoin="round"/>
<path d="M105.3 48.8L112.8 50.9L115.3 51.1L117.3 51L119.8 50.3L122.3 49.2L130.3 44.1L133.8 42.3L135.3 41.8L136.8 41.6L138.2 41.6L140 42.1L142.7 43.7L145.4 46.2L147.6 49L152.9 56.6L156.5 60.7L160.5 64.4L168.5 71.1L173.3 76.3L188.5 96.1L228 150.2L249.5 179.3L285.5 230.3L319 276.8L347.5 317.9L367 345L376 358.3L385.5 373.3L396 390.8L407.5 410.8" fill="none" stroke="#0000ff" stroke-width="0.85" stroke-dasharray="8.2 3.7 1.8 3.7" stroke-linejoin="round"/>
<path d="M105.2 50.5L111.7 51.8L114.2 51.9L116.2 51.5L118.2 50.9L120.7 49.8L128.7 44.8L132.2 43L134.2 42.4L135.7 42.3L137.1 42.4L138.5 42.9L141.2 44.4L143.4 46.4L145.7 49L151.1 56.6L154.3 60.4L159.2 65.3L167.8 72.9L173.2 78.8L183.1 91.4L190.4 100.9L229.6 155.1L250 182.8L286 233.9L318 278.2L347.5 320.9L367 348.1L375.5 360.6L384.5 374.7L395 392L406 410.9" fill="none" stroke="#0000ff" stroke-width="0.85" stroke-dasharray="8.2 3.7 1.8 3.7" stroke-linejoin="round"/>
<path d="M105.1 52.1L110.6 52.7L112.6 52.6L114.6 52.2L116.6 51.6L119.1 50.4L126.6 45.7L130.6 43.7L132.6 43.1L134.1 43L135.5 43.2L137.3 43.8L140.1 45.5L142.4 47.6L144.7 50.3L150.2 57.8L153.4 61.6L158.4 66.7L167.1 74.6L173.1 81.2L186.8 98.5L204.7 122.9L229.5 157.5L251 187L286 236.7L320.5 284.7L347 323.2L366 349.8L374 361.4L388 383.4L404.5 411.1" fill="none" stroke="#0000ff" stroke-width="0.85" stroke-dasharray="8.2 3.7 1.8 3.7" stroke-linejoin="round"/>
<path d="M105 53.4L110 53.5L112 53.2L114 52.6L118 50.7L126 45.8L130 44.1L131.5 43.8L133 43.8L135.8 44.5L138.6 46.2L140.9 48.2L143.2 50.9L148.8 58.4L152.1 62.3L157.7 68.1L167 76.9L174.4 85.3L186.5 100.3L202.8 122.5L230.2 161.3L253 192.6L287.5 241.7L319.5 286.1L347 326.2L366 352.9L374 364.5L387 384.9L403 411.3" fill="none" stroke="#0000ff" stroke-width="0.85" stroke-dasharray="8.2 3.7 1.8 3.7" stroke-linejoin="round"/>
<path d="M105.4 54.5L109.4 54.1L112.9 53L116.4 51.3L123.9 46.7L127.9 44.9L129.9 44.5L131.4 44.5L133.3 44.9L135.2 45.7L138 47.6L140.4 49.9L147.9 59.7L150.8 63L156.9 69.5L167.3 79.7L180 94.5L189 105.9L203.6 126L230.6 164.4L252 194.1L286.5 243.1L319.5 289L347 329.2L366 356L373.5 366.9L385.5 385.5L401 410.8" fill="none" stroke="#0000ff" stroke-width="0.85" stroke-dasharray="8.2 3.7 1.8 3.7" stroke-linejoin="round"/>
<path d="M105.3 55.3L108.8 54.6L111.8 53.5L114.8 51.9L121.8 47.6L124.3 46.4L126.3 45.6L128.3 45.2L130.3 45.3L132.2 45.8L134.1 46.7L136.5 48.3L138.9 50.6L147 60.9L150.4 64.8L156.6 71.5L167.2 82.1L181.1 98L189.2 108.4L203.1 127.5L231.4 168.3L254.5 200.4L288 248.1L319 291.2L347 332.2L366.5 359.8L373.5 370L384.5 387L399.5 411.2" fill="none" stroke="#0000ff" stroke-width="0.85" stroke-dasharray="8.2 3.7 1.8 3.7" stroke-linejoin="round"/>
<path d="M105.2 55.9L107.7 55.2L110.2 54.1L119.7 48.5L122.7 47.1L124.7 46.3L126.7 46L128.7 46L130.6 46.5L133.1 47.7L135.5 49.4L137.9 51.8L146.2 62.1L151 67.8L156.4 73.6L167.1 84.5L181.2 100.4L189.4 111L202.1 128.4L232.7 172.9L255.5 204.6L288 250.9L318.5 293.3L347 335.2L373 372.3L383 387.6L397.5 410.9" fill="none" stroke="#0000ff" stroke-width="0.85" stroke-dasharray="8.2 3.7 1.8 3.7" stroke-linejoin="round"/>
<path d="M105.1 56.2L109.6 54.2L118.6 48.9L121.1 47.7L123.1 47L125.6 46.7L127.6 46.8L129.6 47.4L132 48.7L134.5 50.5L136.5 52.4L146.3 64.6L153.2 72.5L167.5 87.4L176.4 97.1L181.3 102.8L189.2 112.9L201.5 130L210.4 142.7L233.1 176.1L256.5 208.9L288 253.8L318 295.5L347 338.2L373 375.4L382.5 389.9L396 411.4" fill="none" stroke="#0000ff" stroke-width="0.85" stroke-dasharray="8.2 3.7 1.8 3.7" stroke-linejoin="round"/>
<path d="M105 35.8L108 36.6L115.5 39.9L117.5 40.4L119 40.5L121 40.2L123.5 39.3L126.5 37.5L133 33.2L135.5 31.9L137.5 31.3L140 31L142 31.4L144 32.3L146.5 34L148.5 35.9L150 37.6L155.5 45.1L159 49.1L163 53L170.5 59.4L175 64.2L199.5 95.2L218 117.6L231.5 133.5L250 154.4L265.5 172.9L272 180L279.5 187.1L287.5 193.6L293.5 197.9L300 201.9L306 206.1L310 208.6L312.5 209.5L313 208.8L314 205L315 202.1L315.5 202.3L317.5 209.2L318 210L319.5 208.2L320 207.8L320.5 208.4L321 209.5L323 215.4L324.5 218.1L326 220L330 223.1" fill="none" stroke="#000000" stroke-width="2.60" stroke-linejoin="round"/>
<path d="M105 113.4L112 122.2L115.5 125.8L117.5 127.4L119.5 128.6L121.5 129.4L123.5 129.9L125.5 130.1L127 129.9L128.5 129.5L130 128.9L133 126.8L139 121.2L140.5 120.1L142 119.4L143.5 119.1L145 119.2L146.5 119.6L148 120.3L151 122.4L154 125.4L157 129.2L165 140.7L168.5 145.4L173 150.5L179 156.3L185 161.6L191 166.4L213 183L225.5 191.8L231.5 195.7L237.5 199.1L243.5 202.1L252 206L270 213.9L285 220.1L294 223.5L302 225.9L308 228.5L312.5 229.5L313 228.7L314.5 221.5L315 220L315.5 221.1L316.5 225.3L317.5 228.4L318 229L319.5 226.8L320 226.5L320.5 227.3L323 235.5L324 237.5L327 241.2L330 243.3" fill="none" stroke="#000000" stroke-width="2.60" stroke-dasharray="7.8 8.7" stroke-linejoin="round"/>
<path d="M105 44.8L116 49.1L118.5 49.6L120.5 49.6L123 49L126 47.7L134 42.5L137.5 40.7L139 40.3L140.5 40.1L142 40.3L143 40.6L145.5 42.1L148.5 45.1L150.5 47.7L155 54.5L158.5 58.7L162.5 62.2L170 67.9L173 70.8L178 76.9L206 115.5L248.5 172.2L284 222.6L313.5 263.3L330 286.6" fill="none" stroke="#000000" stroke-width="2.60" stroke-dasharray="8.2 3.7 1.8 3.7" stroke-linejoin="round"/>
<path d="M105 126.2L107 126.5L109 126.4L110.5 126L112 125.2L114.5 123L119 117.8L121.5 115.2L124 113.1L126.5 111.5L129 110.5L131 110.1L133 110.3L134.5 110.8L137 112.3L139.5 114.6L151 127.5L160.5 136.6L169.5 146.4L176 152.7L181.5 157.5L187 161.9L192.5 165.9L198.5 169.8L207 174.8L217.5 180.6L230 187.3L239.5 192L253.5 198.2L282 209L296 215L308 220.4L315.5 224L322.5 227.8L329.5 232.1L336.5 237.1L342.5 242.1L348 247.5L353.5 253.9L361 263.7L377.5 286.8L380.5 290.6L386 297L388.5 300.2L396.5 312.8L400.5 320.5L401.5 321.6L402 321.9L402.5 321.9L403 318.9L403.5 310.5L407 276L412 212L415 180L417 150L420 120L423 100L425 90L429 66.5L431 60.4" fill="none" stroke="#ff0000" stroke-width="2.60" stroke-dasharray="7.8 8.7" stroke-linejoin="round"/>
<path d="M105 56.3L108 54.8L116 50.1L119 48.6L121.5 47.7L124 47.4L126 47.6L128.5 48.4L131 49.7L133 51.2L135.5 53.6L146 66.5L153.5 75.2L175 97.8L181.5 105.2L189.5 115.6L201 131.5L210 144.5L226 168.5L234 180.2L258 213.8L288 256.6L318 298.3L347 341.2L373 378.5L381.5 391.4L394 411.2" fill="none" stroke="#ff0000" stroke-width="2.60" stroke-dasharray="8.2 3.7 1.8 3.7" stroke-linejoin="round"/>
<path d="M105 45.6L107.5 44.4L113 40.5L116.5 38.3L120.5 36.5L124 35.5L125.5 35.4L127 35.5L129.5 36.3L132.5 37.9L135.5 40.3L140.5 45.6L154 61.6L171.5 81.4L196 111.1L207.5 124.5L219.5 137.6L230.5 148.4L240.5 157.4L252 167.2L281.5 190.2L292.5 198.1L314 211.9L327.5 221.1L336 227.7L339.5 230.9L343 234.4L347 238.8L351.5 244.4L361 257.6L373 275.6L381 288.5L389 299.5L396.5 311.9L400 318.9L401 320.3L402 321.1L402.5 321.1L403 318.2L403.5 310.1L407 276L412 212L415 180L417 150L420 120L423 100L425 90L429 66.5L432 57.3L436 64.5L440 76L446 100L450 111L453 120L456 130L459 147L461.5 165.3L473 158.4L473.5 157.7L479 132.5L485 112L490 93L496 80L505 62.5L520 73L540 85L566 99L594 110L610 120L625 130L641 142L655 146L675 155.3L692.5 163L700 166.6" fill="none" stroke="#ff0000" stroke-width="2.60" stroke-linejoin="round"/>
</g>
<path d="M104.5 399.4 v-4.1 M104.5 5.0 v4.1 M124.8 399.4 v-4.1 M124.8 5.0 v4.1 M141.9 399.4 v-4.1 M141.9 5.0 v4.1 M156.8 399.4 v-4.1 M156.8 5.0 v4.1 M169.9 399.4 v-4.1 M169.9 5.0 v4.1 M181.6 399.4 v-7.9 M181.6 5.0 v7.9 M258.7 399.4 v-4.1 M258.7 5.0 v4.1 M303.7 399.4 v-4.1 M303.7 5.0 v4.1 M335.7 399.4 v-4.1 M335.7 5.0 v4.1 M360.5 399.4 v-4.1 M360.5 5.0 v4.1 M380.8 399.4 v-4.1 M380.8 5.0 v4.1 M397.9 399.4 v-4.1 M397.9 5.0 v4.1 M412.8 399.4 v-4.1 M412.8 5.0 v4.1 M425.9 399.4 v-4.1 M425.9 5.0 v4.1 M437.6 399.4 v-7.9 M437.6 5.0 v7.9 M514.7 399.4 v-4.1 M514.7 5.0 v4.1 M559.7 399.4 v-4.1 M559.7 5.0 v4.1 M591.7 399.4 v-4.1 M591.7 5.0 v4.1 M616.5 399.4 v-4.1 M616.5 5.0 v4.1 M636.8 399.4 v-4.1 M636.8 5.0 v4.1 M653.9 399.4 v-4.1 M653.9 5.0 v4.1 M668.8 399.4 v-4.1 M668.8 5.0 v4.1 M681.9 399.4 v-4.1 M681.9 5.0 v4.1 M693.6 399.4 v-7.9 M693.6 5.0 v7.9 M105.3 399.4 h12.0 M693.6 399.4 h-12.0 M105.3 365.3 h5.8 M693.6 365.3 h-5.8 M105.3 345.3 h5.8 M693.6 345.3 h-5.8 M105.3 331.2 h5.8 M693.6 331.2 h-5.8 M105.3 320.2 h5.8 M693.6 320.2 h-5.8 M105.3 311.2 h5.8 M693.6 311.2 h-5.8 M105.3 303.7 h5.8 M693.6 303.7 h-5.8 M105.3 297.1 h5.8 M693.6 297.1 h-5.8 M105.3 291.3 h5.8 M693.6 291.3 h-5.8 M105.3 286.1 h12.0 M693.6 286.1 h-12.0 M105.3 252.0 h5.8 M693.6 252.0 h-5.8 M105.3 232.0 h5.8 M693.6 232.0 h-5.8 M105.3 217.9 h5.8 M693.6 217.9 h-5.8 M105.3 206.9 h5.8 M693.6 206.9 h-5.8 M105.3 197.9 h5.8 M693.6 197.9 h-5.8 M105.3 190.4 h5.8 M693.6 190.4 h-5.8 M105.3 183.8 h5.8 M693.6 183.8 h-5.8 M105.3 178.0 h5.8 M693.6 178.0 h-5.8 M105.3 172.8 h12.0 M693.6 172.8 h-12.0 M105.3 138.7 h5.8 M693.6 138.7 h-5.8 M105.3 118.7 h5.8 M693.6 118.7 h-5.8 M105.3 104.6 h5.8 M693.6 104.6 h-5.8 M105.3 93.6 h5.8 M693.6 93.6 h-5.8 M105.3 84.6 h5.8 M693.6 84.6 h-5.8 M105.3 77.1 h5.8 M693.6 77.1 h-5.8 M105.3 70.5 h5.8 M693.6 70.5 h-5.8 M105.3 64.7 h5.8 M693.6 64.7 h-5.8 M105.3 59.5 h12.0 M693.6 59.5 h-12.0 M105.3 25.4 h5.8 M693.6 25.4 h-5.8 M105.3 5.4 h5.8 M693.6 5.4 h-5.8" stroke="#000" stroke-width="2.2" fill="none"/>
<rect x="105.3" y="5.0" width="588.3" height="394.4" fill="none" stroke="#000" stroke-width="2.4"/>
<g opacity="0.999">
<path d="M457.5 331 H558.6" stroke="#000" stroke-width="1.9" fill="none"/>
<path d="M457.5 355 H558.6" stroke="#000" stroke-width="1.9" fill="none" stroke-dasharray="7.5 9"/>
<path d="M457.5 376.6 H558.6" stroke="#000" stroke-width="1.9" fill="none" stroke-dasharray="8.5 3.6 1.8 3.6"/>
<text x="567.2" y="332.8" font-family="'Liberation Serif', serif" font-size="17.0" font-weight="normal" fill="#000" text-anchor="start" textLength="78.0" lengthAdjust="spacingAndGlyphs" stroke="#000" stroke-width="0.55">extinction</text>
<text x="567.2" y="355.6" font-family="'Liberation Serif', serif" font-size="17.0" font-weight="normal" fill="#000" text-anchor="start" textLength="82.4" lengthAdjust="spacingAndGlyphs" stroke="#000" stroke-width="0.55">absorption</text>
<text x="567.2" y="377.5" font-family="'Liberation Serif', serif" font-size="17.0" font-weight="normal" fill="#000" text-anchor="start" textLength="78.0" lengthAdjust="spacingAndGlyphs" stroke="#000" stroke-width="0.55">scattering</text>
<text x="458.0" y="232.8" font-family="'Liberation Serif', serif" font-size="22.8" font-weight="normal" fill="#008000" text-anchor="start" textLength="174.8" lengthAdjust="spacingAndGlyphs" stroke="#008000" stroke-width="0.30">a&#8722;Sil(px.)/a&#8722;C</text>
<text x="458.0" y="270.0" font-family="'Liberation Serif', serif" font-size="22.8" font-weight="normal" fill="#0000ff" text-anchor="start" textLength="198.0" lengthAdjust="spacingAndGlyphs" stroke="#0000ff" stroke-width="0.30">a&#8722;Sil(px.)/a&#8722;C:H</text>
<text x="514.0" y="51.4" font-family="'Liberation Serif', serif" font-size="24.0" font-weight="normal" fill="#000" text-anchor="start" textLength="11.7" lengthAdjust="spacingAndGlyphs" stroke="#000" stroke-width="0.30">a</text>
<text x="541.0" y="51.6" font-family="'Liberation Serif', serif" font-size="24.0" font-weight="normal" fill="#000" text-anchor="start" textLength="13.5" lengthAdjust="spacingAndGlyphs" stroke="#000" stroke-width="0.30">=</text>
<text x="569.2" y="51.4" font-family="'Liberation Serif', serif" font-size="23.5" font-weight="normal" fill="#000" text-anchor="start" textLength="38.0" lengthAdjust="spacingAndGlyphs" stroke="#000" stroke-width="0.30">140</text>
<text x="620.9" y="51.4" font-family="'Liberation Serif', serif" font-size="24.0" font-weight="normal" fill="#000" text-anchor="start" textLength="36.0" lengthAdjust="spacingAndGlyphs" stroke="#000" stroke-width="0.30">nm</text>
<text x="63.6" y="70.8" font-family="'Liberation Serif', serif" font-size="30.0" font-weight="normal" fill="#000" text-anchor="start" textLength="32.0" lengthAdjust="spacingAndGlyphs" stroke="#000" stroke-width="0.40">10</text>
<text x="83.2" y="182.4" font-family="'Liberation Serif', serif" font-size="30.0" font-weight="normal" fill="#000" text-anchor="start" textLength="14.0" lengthAdjust="spacingAndGlyphs" stroke="#000" stroke-width="0.40">1</text>
<text x="53.0" y="298.0" font-family="'Liberation Serif', serif" font-size="30.0" font-weight="normal" fill="#000" text-anchor="start" textLength="39.6" lengthAdjust="spacingAndGlyphs" stroke="#000" stroke-width="0.40">0.1</text>
<text x="36.0" y="401.0" font-family="'Liberation Serif', serif" font-size="30.0" font-weight="normal" fill="#000" text-anchor="start" textLength="56.0" lengthAdjust="spacingAndGlyphs" stroke="#000" stroke-width="0.40">0.01</text>
<text x="173.8" y="440.3" font-family="'Liberation Serif', serif" font-size="30.0" font-weight="normal" fill="#000" text-anchor="start" textLength="14.0" lengthAdjust="spacingAndGlyphs" stroke="#000" stroke-width="0.40">1</text>
<text x="421.4" y="440.3" font-family="'Liberation Serif', serif" font-size="30.0" font-weight="normal" fill="#000" text-anchor="start" textLength="32.0" lengthAdjust="spacingAndGlyphs" stroke="#000" stroke-width="0.40">10</text>
<text x="669.0" y="440.3" font-family="'Liberation Serif', serif" font-size="30.0" font-weight="normal" fill="#000" text-anchor="start" textLength="47.5" lengthAdjust="spacingAndGlyphs" stroke="#000" stroke-width="0.40">100</text>
<text x="232.7" y="472.9" font-family="'Liberation Serif', serif" font-size="29.0" font-weight="bold" fill="#000" text-anchor="start" textLength="160.0" lengthAdjust="spacingAndGlyphs">wavelength</text>
<text x="407.6" y="473.6" font-family="'Liberation Serif', serif" font-size="37.0" font-weight="normal" fill="#000" text-anchor="start" textLength="12.3" lengthAdjust="spacingAndGlyphs" stroke="#000" stroke-width="0.70">[</text>
<text x="436.2" y="472.9" font-family="'Liberation Serif', serif" font-size="29.0" font-weight="bold" fill="#000" text-anchor="start" textLength="102.0" lengthAdjust="spacingAndGlyphs">micron</text>
<text x="552.6" y="473.6" font-family="'Liberation Serif', serif" font-size="37.0" font-weight="normal" fill="#000" text-anchor="start" textLength="12.3" lengthAdjust="spacingAndGlyphs" stroke="#000" stroke-width="0.70">]</text>
<g transform="translate(13.5 246) rotate(-90)" font-family="'Liberation Sans', sans-serif" fill="#000" stroke="#000" stroke-width="0.35"><text x="0" y="0" font-size="27">&#955;</text><text x="13.6" y="0" font-size="26">Q</text><text x="33.2" y="1.5" font-size="13" font-weight="bold">i</text><path d="M37.5 5.5 L50 -18" stroke="#000" stroke-width="2.3" fill="none"/><text x="56" y="0" font-size="27">a</text></g>
</g></svg>
</body></html>
